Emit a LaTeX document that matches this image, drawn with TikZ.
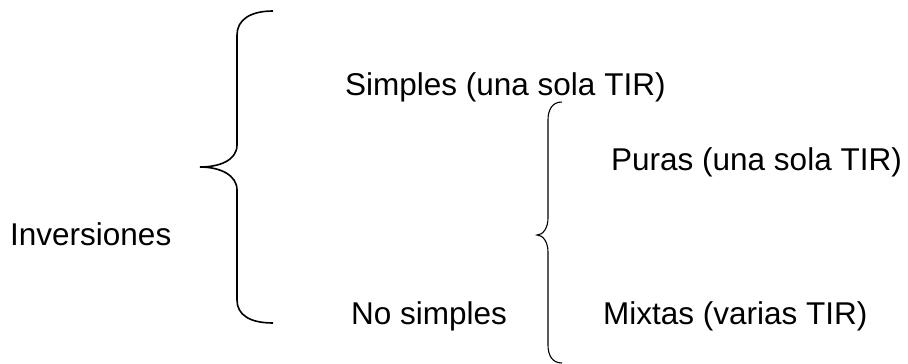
\documentclass[tikz,border=0pt]{standalone}
\usepackage{fontspec}
\setmainfont{Liberation Sans}
\begin{document}
\begin{tikzpicture}[x=1pt, y=-1pt,
    txt/.style={font=\fontsize{31.5}{37}\selectfont, anchor=base west, inner sep=0pt},
    bigbrace/.style={line width=1.6pt},
    smallbrace/.style={line width=1.1pt}]
    \useasboundingbox (0,0) rectangle (908,364);

    % Labels
    \node[txt] (inv) at (10,245) {Inversiones};
    \node[txt] (simp) at (345,95) {Simples (una sola TIR)};
    \node[txt] (nosimp) at (351,324) {No simples};
    \node[txt] (puras) at (611,170) {Puras (una sola TIR)};
    \node[txt] (mixtas) at (603,324) {Mixtas (varias TIR)};

    % Big brace
    \draw[bigbrace] (273,11) .. controls (250,11) and (237,20) .. (237,35) -- (237,145)
        .. controls (237,160) and (220,167) .. (200,167)
        .. controls (220,167) and (237,175) .. (237,190) -- (237,300)
        .. controls (237,315) and (250,323) .. (273,323);

    % Small brace
    \draw[smallbrace] (562,102) .. controls (552,102) and (548,110) .. (548,120) -- (548,218)
        .. controls (548,228) and (543,235) .. (537,235)
        .. controls (543,235) and (548,242) .. (548,252) -- (548,345)
        .. controls (548,355) and (552,363) .. (562,363);
\end{tikzpicture}
\end{document}
